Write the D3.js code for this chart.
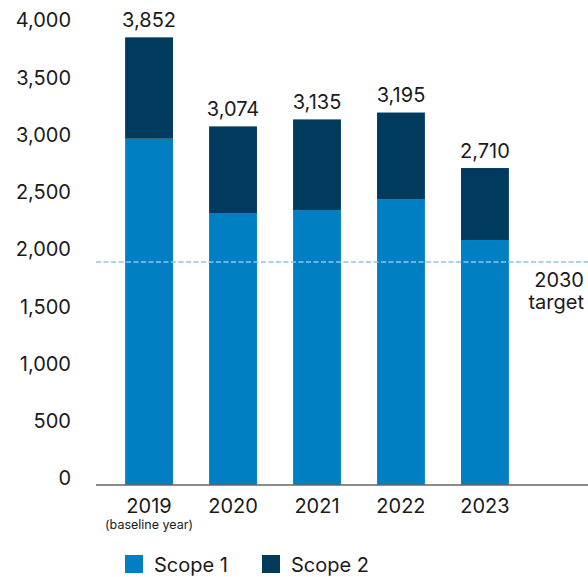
<!DOCTYPE html>
<html><head><meta charset="utf-8">
<script src="https://cdn.jsdelivr.net/npm/d3@7"></script>
<style>body{margin:0;background:#fff}svg{display:block}text{font-family:Inter,"Noto Sans",sans-serif;fill:#1a1a1a}</style>
</head><body><svg id="c" width="588" height="577"></svg>
<script>
const years = ["2019","2020","2021","2022","2023"];
const scope1 = [2966, 2317, 2343, 2439, 2081];
const totals = [3852, 3074, 3135, 3195, 2710];
const scope2 = totals.map((t,i)=>t-scope1[i]);
const yTicks = [0,500,1000,1500,2000,2500,3000,3500,4000];
const target = 1890;
const seriesNames = ["Scope 1","Scope 2"];
const colors = ["#0080c3","#003a5d"];

const svg = d3.select("#c");
const axisY = 485;
const y = d3.scaleLinear().domain([0,4000]).range([478.2,20.4]);
const x = d3.scaleBand().domain(years).range([89,545]).paddingInner(0.43).paddingOuter(0.43);

const data = years.map((yr,i)=>({year:yr,"Scope 1":scope1[i],"Scope 2":scope2[i]}));
const stack = d3.stack().keys(seriesNames)(data);
const bottom = v => v === 0 ? axisY : y(v);

svg.append("g").selectAll("g").data(stack).join("g").attr("fill",(d,i)=>colors[i])
  .selectAll("rect").data(d=>d).join("rect")
  .attr("x",d=>x(d.data.year)).attr("width",x.bandwidth())
  .attr("y",d=>y(d[1])).attr("height",d=>bottom(d[0])-y(d[1]));

// y labels
svg.append("g").selectAll("text").data(yTicks).join("text")
  .attr("x",71).attr("y",d=>y(d)).attr("dy","0.35em").attr("text-anchor","end")
  .attr("font-size",20).text(d3.format(","));

// axis line
svg.append("line").attr("x1",96).attr("x2",588).attr("y1",axisY).attr("y2",axisY)
  .attr("stroke","#666").attr("stroke-width",1.5);

// target
svg.append("line").attr("x1",96).attr("x2",588).attr("y1",y(target)).attr("y2",y(target))
  .attr("stroke","#8cc4ec").attr("stroke-width",1.5).attr("stroke-dasharray","5,2.5");
svg.append("text").attr("x",584).attr("y",y(target)+25).attr("text-anchor","end").attr("font-size",20).text("2030");
svg.append("text").attr("x",584).attr("y",y(target)+47).attr("text-anchor","end").attr("font-size",20).text("target");

// totals
svg.append("g").selectAll("text").data(data).join("text")
  .attr("x",(d)=>x(d.year)+x.bandwidth()/2).attr("y",(d,i)=>y(totals[i])-10.5)
  .attr("text-anchor","middle").attr("font-size",20).text((d,i)=>d3.format(",")(totals[i]));

// x labels
svg.append("g").selectAll("text").data(years).join("text")
  .attr("x",d=>x(d)+x.bandwidth()/2).attr("y",512.5).attr("text-anchor","middle").attr("font-size",20).text(d=>d);
svg.append("text").attr("x",x(years[0])+x.bandwidth()/2).attr("y",529).attr("text-anchor","middle").attr("font-size",12.5).text("(baseline year)");

// legend
const lg = svg.append("g").selectAll("g").data(seriesNames).join("g")
  .attr("transform",(d,i)=>`translate(${[125,262][i]},555)`);
lg.append("rect").attr("width",18).attr("height",18).attr("fill",(d,i)=>colors[i]);
lg.append("text").attr("x",29).attr("y",17).attr("font-size",20).text(d=>d);
</script></body></html>
